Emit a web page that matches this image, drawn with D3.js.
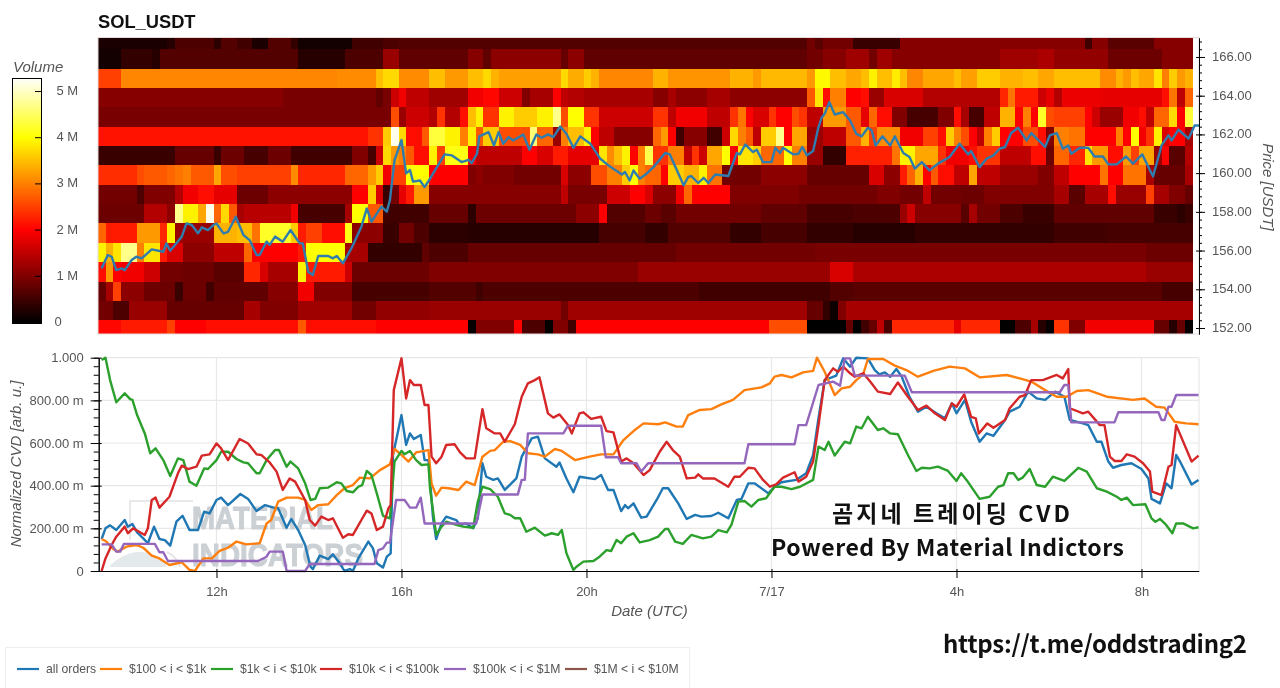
<!DOCTYPE html>
<html><head><meta charset="utf-8">
<script src="https://cdn.jsdelivr.net/npm/d3@7"></script>
<style>
html,body{margin:0;padding:0;background:#fff;overflow:hidden}
svg{display:block;font-family:"Liberation Sans",Arial,sans-serif;filter:blur(.4px)}
.tick text{font-size:13px;fill:#555;font-family:"Liberation Sans",Arial,sans-serif}
.axlab{font-size:15px;font-style:italic;fill:#555}
.big{font-family:"Noto Sans CJK KR","Noto Sans",sans-serif;font-weight:700;fill:#111}
</style></head><body><svg id="c" width="1280" height="688"></svg>
<script>
// ---------- heatmap: volume in millions, run lists [end column, value, ...], 142 ten-minute columns
const columnCount = 142, columnMinutes = 10, firstColumnMinute = -153.7;
const vol167 = [9,.2,10,.3,15,.6,16,.35,18,.65,20,.5,22,.2,25,.65,26,.4,33,.15,37,.5,39,.6,92,.65,93,.9,94,.7,98,.9,104,.45,128,1.05,129,.5,131,1.05,137,.7,142,1.05];
const vol166 = [3,.15,7,.4,8,.3,26,.65,32,.3,37,.6,39,1.2,48,.75,50,1.05,51,.75,60,1.1,61,.8,63,1.1,92,.75,94,.9,97,1.05,100,1.25,101,.9,103,1.25,117,1.05,122,1.25,124,1.35,131,1.15,138,.85,142,1.05];
const vol165 = [3,2.5,31,3.05,36,3.1,37,3.5,39,3.7,43,3.1,45,3.5,48,3.2,50,3.5,51,3.7,52,3.4,60,3.25,61,3.7,63,3.35,64,3.6,65,3.4,72,3.05,74,3.4,82,3.15,85,3.4,86,3.2,92,3.45,93,3.2,95,3.95,97,3.5,99,3.3,100,3.5,101,3.9,103,3.5,104,3.85,105,3.5,107,3.05,111,3.3,112,3.5,114,3.25,117,3.6,120,3.4,122,3.5,124,3.3,130,3.5,132,3.1,133,3.4,134,3.2,135,3.5,137,3.3,138,3.8,139,3.0,140,3.6,141,3.2,142,3.4];
const vol164 = [24,1.05,36,.95,37,.75,38,.95,39,1.6,40,1.9,43,1.5,48,1.25,50,1.9,52,2.05,55,1.6,56,1.0,59,1.3,60,2,61,1.5,63,1.4,72,1.3,74,1.05,75,1.3,79,1.1,82,1.3,92,1.1,93,2.7,94,3.8,95,2.1,97,3.0,99,2.0,100,2.1,102,1.2,107,1.7,117,1.4,118,2.3,119,2.9,122,2.2,123,1.6,124,1.8,125,1.4,130,1.85,138,1.8,139,2.1,140,2.9,141,1.5,142,2.8];
const vol163 = [38,.95,39,2.6,40,1.2,43,1.6,44,1.4,45,2.4,47,1.4,48,2.1,49,3.5,50,3.9,52,2.4,54,3.9,57,3.6,59,3.9,60,4.7,61,2.6,63,4.0,65,2.4,72,1.6,74,2.4,75,1.5,79,1.9,82,1.5,83,2.4,84,2.9,85,2.0,87,1.7,88,2.4,90,2.0,91,2.6,92,2.4,94,1.5,97,3.2,99,2.7,100,1.8,101,2.8,103,2.1,105,1.0,109,.55,111,1.0,112,2.1,113,1.3,115,.55,117,1.5,119,3.4,120,2.0,121,3.0,122,2.0,123,4.2,124,2.6,128,2.5,129,2,130,1.6,133,1.2,135,1.9,136,2.1,137,1.5,139,2.8,140,3.7,141,2.0,142,4.3];
const vol162 = [35,2.15,37,2.4,38,3.6,39,5.2,40,3.7,42,2.1,43,2.7,45,4.3,47,3.9,48,3.0,49,3.9,50,2.7,52,3.6,56,2.6,57,4.6,59,2.8,60,1.2,61,3.0,63,3.5,64,3.9,65,2.0,67,1.5,72,1.05,73,2.8,74,3.2,75,2.0,76,.5,79,1.05,81,.5,82,1.6,83,3.7,84,3.0,85,2.7,86,1.5,88,3.6,89,4.7,90,2.0,92,3.3,94,1.2,97,1.5,99,2.7,100,3.4,101,2.5,104,3.1,107,1.9,109,2.5,110,2.1,111,3.6,112,3.0,113,2.6,114,2.0,115,1.5,116,3.0,117,3.6,120,2.0,122,2.6,123,2.1,124,1.0,126,3,128,2.9,132,2.0,133,3.0,134,2,135,4.0,136,1.9,137,2.4,138,3.9,139,1.7,141,2,142,1.3];
const vol161 = [10,.45,15,.8,16,.45,19,.85,22,.55,25,.85,33,.5,35,1.0,36,.55,37,1.6,38,3.7,39,3.2,40,3.0,41,2.7,43,2.1,44,3.9,45,2.5,48,4.1,49,1.9,55,1.5,57,2.0,59,1.7,61,2.2,65,1.8,66,3.8,67,3.1,68,3.5,69,3.9,70,2.0,71,3.0,72,4.4,74,2.4,76,3.0,77,1.5,78,2.4,79,1.6,81,3.3,82,4.0,83,2.0,85,3.8,86,3.6,89,2.8,90,4.0,92,3.0,94,1.2,97,.4,103,2.25,104,2.9,106,3.9,109,3.3,110,2.4,113,1.9,114,2.1,117,2.4,121,1.5,123,2.1,124,.85,126,2.8,128,2.3,129,3.8,131,3.2,133,2.1,134,3.2,135,2.5,137,3.3,138,1.2,139,2.0,141,.7,142,1.4];
const vol160 = [5,2.35,6,2.6,9,2.7,10,2.8,11,2.9,12,3,15,2.7,16,3.3,18,2.6,25,2.5,26,3.1,32,2.3,35,2.8,36,3.2,37,3.6,38,1.9,40,2.5,43,4.0,48,2.0,49,1.0,50,1.1,54,1.0,60,.9,61,1.7,64,1.1,66,2.6,68,3.0,69,3.6,70,4.0,71,3.0,73,2.8,74,2.0,76,3.6,78,3.4,79,3.9,81,2.9,86,.9,92,1.1,100,.8,102,1.7,104,1.1,105,2.2,106,2.8,107,3.4,108,2.0,109,2.7,111,2.1,113,1.5,114,3.3,117,1.5,122,1.2,124,1.0,126,1.5,130,2.0,131,2.9,133,2.0,136,2.9,137,1.3,141,.8,142,1.3];
const vol159 = [5,.9,6,.6,10,1.0,11,1.4,13,1.9,15,2.1,18,1.8,22,.85,33,1.1,35,2.0,36,3.6,37,1.7,38,.45,39,.9,40,1.8,41,2.2,43,3.2,60,1.05,61,1.5,66,.95,69,1.6,71,2.0,72,1.7,75,1.1,76,1.9,77,2.8,82,2.0,91,1.0,101,.9,104,1.0,107,.9,108,1.5,112,.9,115,.85,124,1.0,126,1.3,128,.7,131,1.3,132,2.1,136,1.2,137,2.5,139,1.3,141,1,142,.8];
const vol158 = [6,.85,9,1.4,10,1.1,11,4.7,13,3.9,14,3.3,15,5.2,16,2.8,17,3.7,18,2.7,19,1.3,25,1.45,26,1.9,32,.55,33,1.3,35,4.0,37,2.7,43,.5,48,.8,49,.35,62,.85,65,1.1,66,2.0,71,.65,73,.85,75,.7,86,.9,92,.75,98,.55,104,.6,105,1.2,106,1.6,112,1.05,113,.7,114,1.3,117,.9,120,.6,124,.45,137,.75,140,.45,141,.35,142,.45];
const vol157 = [1,2.8,5,2.2,8,3.2,9,2.3,10,3.9,15,1.2,18,3.4,20,3.5,21,2.9,25,4.2,26,3.6,27,2.2,29,2.5,32,2.1,33,4.1,37,1.1,39,.45,41,.9,43,.6,48,.35,65,.3,71,.55,74,.4,82,.65,86,.4,92,.55,98,.4,106,.3,124,.4,131,.5,142,.55];
const vol156 = [1,3.9,2,3.4,3,3.8,5,4.7,6,3.0,8,3.8,9,2.2,11,1.7,15,1.1,19,1.5,20,2.8,26,2.0,27,2.2,32,4.0,35,1.3,42,.4,43,.75,48,.6,75,.8,93,.9,136,.95,142,.85];
const vol155 = [1,2.1,2,3.2,3,2.0,6,1.9,8,1.6,11,.9,15,.85,19,.7,21,2.3,22,1.7,26,1.3,27,3.9,32,2.2,33,1.6,43,.85,70,1.0,95,1.2,98,1.7,136,1.35,142,1.2];
const vol154 = [1,.8,2,1.3,3,2.5,6,1.1,10,.85,11,.45,14,.85,15,.5,22,.75,26,1.05,28,1.9,33,1.0,43,.55,49,.65,50,.5,78,.6,95,.5,98,.65,138,.7,142,.55];
const vol153 = [2,.9,4,.6,9,1.2,19,.8,21,1.3,26,1.0,33,1.25,36,.9,43,1.15,60,1.2,61,.9,92,1.25,94,.8,95,.4,96,.1,97,1.0,142,1.3];
const vol152 = [3,2.05,9,2.2,10,2.5,14,2,26,2.1,27,2.7,36,2.1,48,2.0,49,.05,54,1.0,55,2,58,.6,59,.02,61,1.0,62,.5,87,2.0,92,2.6,97,0,98,.8,99,0,100,.5,101,.8,102,1.5,103,.6,111,2.3,112,1.8,117,2.3,119,.02,121,.6,122,1.3,123,.3,124,.05,126,2.4,128,1.0,137,1.9,139,.8,140,.3,141,.8,142,.05];
const bandLowerEdges = [166.4,165.4,164.4,163.4,162.4,161.4,160.4,159.4,158.4,157.4,156.4,155.4,154.4,153.4,152.4,151.4];
const bandRuns = [vol167,vol166,vol165,vol164,vol163,vol162,vol161,vol160,vol159,vol158,vol157,vol156,vol155,vol154,vol153,vol152];

// ---------- lines: [minutes after 12h on 7/16, value]
const price = [[-149,155.08],[-141,155.77],[-136,155.68],[-130,154.99],[-123,155.08],[-119,154.99],[-110,155.51],[-104,155.68],[-97,155.6],[-84,156.06],[-69,155.94],[-65,156.37],[-60,155.99],[-45,156.72],[-39,157.4],[-32,157.32],[-24,156.89],[-19,157.2],[-11,157.06],[-4,157.32],[0,157.4],[9,156.89],[15,156.97],[25,157.75],[35,156.8],[43,156.54],[52,155.77],[56,155.77],[65,156.46],[69,156.29],[76,156.72],[86,156.46],[96,157.06],[108,156.37],[112,156.37],[119,154.91],[125,154.74],[132,155.72],[145,155.72],[151,155.6],[156,155.72],[164,155.34],[175,156.11],[188,157.23],[195,158.18],[201,157.49],[214,158.27],[221,158.01],[225,158.61],[231,160.67],[240,161.71],[246,159.99],[251,160.16],[255,159.56],[264,159.62],[270,159.28],[277,159.71],[286,160.31],[296,160.97],[305,160.92],[318,160.57],[327,160.69],[331,160.52],[338,161.0],[341,161.9],[353,162.12],[360,161.43],[366,162.12],[372,161.52],[379,161.86],[385,161.69],[398,162.0],[406,161.21],[415,162.0],[422,161.83],[430,162.0],[437,161.86],[446,162.41],[454,162.03],[463,161.31],[472,161.9],[485,161.52],[498,160.74],[510,160.35],[526,159.93],[530,160.06],[536,159.62],[541,160.14],[549,159.71],[558,159.97],[567,160.31],[582,161.04],[588,160.97],[606,159.37],[612,159.8],[616,159.85],[625,159.49],[632,159.76],[638,159.49],[647,159.93],[664,159.85],[675,161.04],[679,160.97],[686,161.48],[696,161.09],[701,161.21],[709,160.57],[720,160.57],[725,161.31],[731,161.04],[735,161.31],[748,160.97],[755,161.0],[760,161.35],[766,160.92],[774,161.14],[781,162.38],[785,162.86],[789,163.07],[795,163.67],[802,163.03],[813,163.15],[822,162.72],[830,162.03],[837,161.9],[845,162.34],[850,162.21],[855,161.43],[864,161.9],[874,161.43],[880,161.9],[891,161.04],[899,160.83],[906,160.23],[915,160.57],[925,160.14],[936,160.49],[951,160.83],[964,161.52],[975,160.97],[979,161.14],[990,160.31],[999,160.74],[1008,160.92],[1016,161.26],[1023,161.35],[1031,162.07],[1040,162.34],[1051,161.69],[1057,162.07],[1075,161.35],[1081,161.95],[1090,162.07],[1098,161.26],[1105,161.43],[1109,161.0],[1120,161.31],[1131,161.31],[1139,160.86],[1150,160.86],[1157,160.45],[1168,160.45],[1180,160.86],[1189,160.49],[1201,160.97],[1215,159.83],[1226,161.43],[1235,161.95],[1239,161.69],[1248,162.24],[1261,161.78],[1269,162.46],[1275,162.46]];
const allOrders = [[-149,150],[-144,200],[-138,214],[-130,192],[-119,239],[-115,208],[-109,220],[-103,181],[-95,153],[-89,130],[-81,208],[-74,150],[-67,145],[-60,119],[-52,231],[-44,259],[-35,192],[-24,192],[-16,278],[-9,270],[0,333],[6,344],[15,309],[31,361],[41,338],[52,281],[63,309],[74,297],[80,294],[91,203],[97,244],[106,192],[115,122],[122,20],[125,9],[134,72],[145,56],[151,78],[160,36],[166,0],[173,9],[177,0],[184,59],[197,138],[203,106],[208,36],[216,16],[221,67],[226,83],[229,544],[240,731],[246,591],[251,645],[256,619],[265,638],[270,520],[275,520],[281,247],[285,150],[292,223],[298,255],[311,239],[316,216],[324,223],[333,200],[339,247],[345,505],[350,442],[359,427],[365,434],[374,380],[389,434],[396,536],[409,622],[417,630],[426,528],[441,489],[445,509],[454,434],[463,369],[471,442],[491,431],[499,450],[508,380],[515,380],[525,281],[530,309],[534,294],[541,317],[551,250],[558,255],[571,333],[579,388],[586,388],[599,317],[610,244],[621,263],[629,255],[642,258],[651,273],[664,247],[675,333],[681,338],[690,411],[698,411],[716,364],[724,395],[733,416],[752,427],[765,458],[774,544],[781,716],[789,895],[804,916],[813,997],[822,958],[830,1000],[845,997],[854,942],[860,922],[867,931],[874,911],[882,947],[889,911],[899,817],[910,747],[921,770],[934,739],[945,716],[954,786],[960,739],[971,802],[979,700],[990,606],[999,645],[1008,634],[1023,708],[1029,747],[1042,770],[1053,841],[1064,809],[1075,802],[1088,841],[1100,817],[1107,708],[1124,692],[1131,684],[1142,606],[1148,606],[1157,513],[1163,484],[1174,497],[1187,505],[1200,478],[1209,434],[1213,338],[1224,317],[1232,411],[1239,388],[1245,544],[1250,513],[1265,406],[1274,427]];
const from100to1k = [[-149,150],[-143,138],[-134,103],[-128,91],[-117,114],[-104,122],[-95,109],[-84,72],[-74,59],[-61,28],[-45,41],[-35,5],[-28,0],[-17,59],[-6,59],[4,94],[15,109],[26,138],[39,125],[56,130],[65,223],[71,239],[80,325],[91,344],[106,344],[115,333],[123,286],[132,309],[145,313],[156,356],[166,388],[177,403],[186,438],[199,434],[212,473],[225,500],[231,572],[240,544],[249,513],[259,556],[275,567],[279,411],[285,353],[292,391],[301,388],[314,380],[324,419],[335,403],[345,536],[355,563],[361,567],[372,606],[381,609],[394,591],[404,552],[417,547],[426,536],[439,572],[448,563],[465,520],[484,536],[499,547],[515,547],[528,614],[541,656],[554,692],[573,688],[582,697],[597,677],[605,677],[612,731],[627,755],[642,759],[655,781],[670,802],[685,848],[707,861],[718,880],[724,911],[733,919],[746,908],[761,931],[774,938],[779,1000],[789,934],[802,825],[811,856],[822,864],[830,895],[839,922],[845,994],[865,994],[880,963],[895,942],[910,911],[930,938],[951,958],[971,950],[990,908],[1025,919],[1042,903],[1057,888],[1075,848],[1090,817],[1103,817],[1116,844],[1131,848],[1155,817],[1189,802],[1204,809],[1219,770],[1230,766],[1243,700],[1258,692],[1274,688]];
const from1kto10k = [[-149,989],[-144,1000],[-138,895],[-130,791],[-119,833],[-112,806],[-109,802],[-103,731],[-93,645],[-86,552],[-79,575],[-69,520],[-60,445],[-50,528],[-43,520],[-35,419],[-26,400],[-16,481],[-11,478],[0,520],[6,559],[15,559],[26,525],[35,509],[41,505],[52,458],[56,458],[65,520],[76,567],[81,567],[91,489],[96,513],[106,481],[115,411],[122,333],[128,338],[134,388],[145,391],[156,416],[162,411],[169,375],[177,369],[184,395],[189,403],[195,469],[201,450],[208,364],[216,259],[225,247],[231,513],[240,563],[244,547],[251,563],[259,520],[266,497],[275,500],[277,388],[285,169],[292,208],[298,231],[311,216],[320,208],[333,203],[339,325],[345,395],[355,384],[365,348],[374,270],[381,263],[387,247],[394,247],[402,184],[413,203],[426,166],[435,177],[443,169],[448,192],[454,83],[463,5],[467,20],[476,44],[489,47],[497,67],[506,98],[512,94],[519,145],[525,130],[532,161],[541,177],[549,134],[562,145],[573,161],[582,197],[586,197],[595,138],[605,127],[616,169],[631,153],[642,161],[651,192],[662,181],[668,216],[677,325],[685,328],[694,302],[703,333],[713,341],[724,395],[733,395],[746,384],[757,395],[774,427],[781,583],[789,567],[794,606],[802,541],[815,606],[822,598],[830,677],[837,669],[845,723],[858,661],[865,669],[874,645],[884,641],[897,544],[908,469],[915,484],[925,481],[936,489],[949,469],[960,422],[966,458],[973,427],[990,338],[1003,348],[1014,395],[1021,403],[1027,458],[1034,458],[1040,427],[1046,438],[1055,478],[1064,403],[1075,395],[1085,442],[1100,422],[1118,484],[1129,466],[1142,388],[1155,372],[1168,348],[1174,333],[1181,344],[1189,309],[1205,313],[1213,247],[1218,231],[1224,244],[1232,216],[1240,177],[1245,223],[1254,223],[1267,200],[1274,205]];
const from10kto100k = [[-149,0],[-144,59],[-136,122],[-130,161],[-119,208],[-115,177],[-108,200],[-97,177],[-93,169],[-89,200],[-84,333],[-79,344],[-74,297],[-61,348],[-50,458],[-45,494],[-37,478],[-26,489],[-19,541],[-9,547],[0,598],[6,575],[15,520],[30,619],[41,598],[52,547],[58,544],[69,509],[78,466],[86,380],[95,434],[102,419],[115,333],[121,239],[128,213],[136,255],[145,239],[151,247],[164,156],[171,172],[177,169],[188,239],[195,283],[201,270],[208,192],[216,208],[223,294],[226,309],[230,848],[240,997],[246,809],[251,895],[256,872],[265,872],[270,778],[275,778],[279,536],[285,505],[292,536],[298,591],[309,594],[316,556],[324,528],[335,528],[345,759],[350,669],[361,645],[368,645],[374,606],[387,688],[396,817],[404,880],[413,895],[419,908],[430,739],[437,719],[445,734],[456,684],[461,645],[471,739],[476,744],[486,713],[499,723],[506,656],[515,650],[525,513],[532,528],[541,505],[554,450],[562,473],[575,559],[584,606],[592,567],[601,536],[610,434],[621,438],[625,453],[631,434],[646,434],[664,395],[672,442],[679,442],[690,484],[698,481],[709,427],[718,395],[726,406],[735,438],[750,463],[755,419],[765,442],[774,513],[781,684],[789,895],[800,950],[806,934],[813,958],[822,927],[828,911],[839,927],[848,888],[858,841],[874,830],[884,884],[897,817],[910,755],[921,775],[932,739],[945,708],[954,786],[960,770],[970,828],[979,723],[985,716],[989,645],[1000,692],[1008,672],[1023,708],[1029,763],[1042,817],[1049,825],[1057,895],[1072,895],[1090,919],[1098,903],[1105,947],[1107,763],[1124,739],[1131,747],[1146,684],[1152,684],[1159,536],[1165,516],[1174,516],[1181,547],[1191,536],[1202,505],[1211,466],[1214,372],[1226,356],[1235,489],[1239,497],[1245,684],[1265,513],[1274,541]];
const from100kto1M = [[-149,125],[-136,125],[-130,91],[-125,91],[-120,127],[-80,127],[-74,88],[-69,88],[-63,47],[54,47],[65,67],[69,91],[86,91],[91,0],[115,0],[121,33],[205,33],[210,98],[216,106],[221,133],[225,133],[233,333],[244,333],[251,297],[259,297],[265,344],[270,223],[337,223],[345,359],[391,359],[396,427],[400,427],[404,645],[450,645],[456,681],[499,681],[505,533],[521,533],[525,505],[545,505],[551,466],[560,505],[685,505],[690,594],[750,594],[755,684],[765,684],[781,872],[800,888],[809,869],[815,997],[822,997],[828,916],[893,916],[902,838],[1094,838],[1100,872],[1105,872],[1109,697],[1165,697],[1170,744],[1222,744],[1226,708],[1230,708],[1235,770],[1239,770],[1245,825],[1274,825]];
const seriesValues = [allOrders, from100to1k, from1kto10k, from10kto100k, from100kto1M];
const seriesNames = ["all orders","$100 < i < $1k","$1k < i < $10k","$10k < i < $100k","$100k < i < $1M","$1M < i < $10M"];
const seriesColors = ["#1f77b4","#ff7f0e","#2ca02c","#d62728","#9467bd","#8c564b"];

// ---------- tick labels
const timeTicks = [0,240,480,720,960,1200];
const timeLabels = ["12h","16h","20h","7/17","4h","8h"];
const priceTicks = [152,154,156,158,160,162,164,166];
const cvdTicks = [0,200,400,600,800,1000];
const cvdLabels = ["0","200.00 m","400.00 m","600.00 m","800.00 m","1.000"];
const volumeTicks = [0,1,2,3,4,5];
const volumeLabels = ["0","1 M","2 M","3 M","4 M","5 M"];

const svg = d3.select("#c");
const color = d3.scaleLinear().domain([0,2,4,5.3]).range(["#000000","#ff0000","#ffff00","#ffffff"]).clamp(true);
const x = d3.scaleLinear().domain([-153.7,1275]).range([98,1199.3]);
const yPrice = d3.scaleLinear().domain([151.69,166.98]).range([334,38]);
const yCvd = d3.scaleLinear().domain([0,1000]).range([571,357.7]);
const yVol = d3.scaleLinear().domain([0,5]).range([322,91]);

svg.append("text").attr("x",98).attr("y",28).attr("font-size",18.3).attr("font-weight",700).attr("fill","#111").text("SOL_USDT");

// heatmap
const defs = svg.append("defs");
defs.append("clipPath").attr("id","hm").append("rect").attr("x",98).attr("y",38).attr("width",1102).attr("height",296);
const hm = svg.append("g").attr("clip-path","url(#hm)").attr("shape-rendering","crispEdges");
function expand(runs){const out=[];let s=0;for(let i=0;i<runs.length;i+=2){for(let k=s;k<runs[i];k++)out.push(runs[i+1]);s=runs[i];}return out;}
const cells=[];
bandRuns.forEach((runs,r)=>expand(runs).forEach((v,c)=>cells.push({c,low:bandLowerEdges[r],v})));
hm.selectAll("rect").data(cells).join("rect")
  .attr("x",d=>x(firstColumnMinute+d.c*columnMinutes))
  .attr("width",d=>x(firstColumnMinute+(d.c+1)*columnMinutes)-x(firstColumnMinute+d.c*columnMinutes)+.4)
  .attr("y",d=>yPrice(d.low+1)).attr("height",d=>yPrice(d.low)-yPrice(d.low+1)+.4)
  .attr("fill",d=>color(d.v));
svg.append("rect").attr("x",98).attr("y",37.5).attr("width",1101).attr("height",296.5).attr("fill","none").attr("stroke","#e6dcdc").attr("stroke-width",1);

const line = d3.line();
svg.append("path").datum(price).attr("fill","none").attr("stroke","#2f7cae").attr("stroke-width",2.4).attr("stroke-linejoin","round")
  .attr("d",line.x(d=>x(d[0])).y(d=>yPrice(d[1])));

function axisStyle(g){g.selectAll(".domain").attr("stroke","#000").attr("stroke-width",1);g.selectAll(".tick line").attr("stroke","#000");}
// price axis
const minor = d3.range(151.6+.4,167,.4).map(v=>+v.toFixed(1));
svg.append("g").attr("transform","translate(1199,0)").call(d3.axisRight(yPrice).tickValues(minor).tickSize(3).tickSizeOuter(0).tickFormat("")).call(axisStyle);
const pa = svg.append("g").attr("transform","translate(1199,0)").call(d3.axisRight(yPrice).tickValues(priceTicks).tickSize(6).tickSizeOuter(0).tickPadding(7).tickFormat(d3.format(".2f"))).call(axisStyle);
pa.selectAll(".tick line").attr("x1",-3);
pa.selectAll(".tick text").attr("dy","0.27em");
svg.append("text").attr("class","axlab").attr("text-anchor","middle").attr("transform","translate(1263,187) rotate(90)").text("Price [USDT]");

// colour bar
const vs = d3.range(0,5.28,.01);
const cb = svg.append("g").attr("shape-rendering","crispEdges");
cb.selectAll("rect").data(vs).join("rect").attr("x",12).attr("width",29).attr("y",d=>yVol(d+.01)).attr("height",d=>yVol(d)-yVol(d+.01)+.5).attr("fill",d=>color(d));
cb.append("rect").attr("x",12).attr("y",78).attr("width",29).attr("height",245).attr("fill","none").attr("stroke","#000");
const va = svg.append("g").attr("transform","translate(41,0)").call(d3.axisLeft(yVol).tickValues(volumeTicks).tickSize(6).tickFormat((d,i)=>volumeLabels[i]));
va.select(".domain").remove();
va.selectAll(".tick line").attr("stroke","#000");
va.selectAll(".tick text").attr("text-anchor","start").attr("x",(d,i)=>i?15.5:13.5).attr("dy","0.27em");
svg.append("text").attr("x",13).attr("y",72).attr("class","axlab").text("Volume");

// lower plot: grid
const grid = svg.append("g").attr("stroke","#e8e8e8").attr("stroke-width",1.2);
grid.selectAll(".gy").data(cvdTicks.slice(1)).join("line").attr("x1",98.7).attr("x2",1199).attr("y1",d=>yCvd(d)).attr("y2",d=>yCvd(d));
grid.selectAll(".gx").data(timeTicks).join("line").attr("y1",357.7).attr("y2",571).attr("x1",d=>x(d)).attr("x2",d=>x(d));
grid.append("line").attr("x1",1199).attr("x2",1199).attr("y1",357.7).attr("y2",571);

// watermark
const wm = svg.append("g");
wm.append("path").attr("d","M109 567 C118 556 132 551 142 552 C152 553 163 558 167 567 Z").attr("fill","#e4e9eb");
wm.append("path").attr("d","M130 540 L130 501 L193 501").attr("fill","none").attr("stroke","#e2e2e2").attr("stroke-width",1.5);
wm.append("path").attr("d","M167 552 Q178 558 180 567").attr("fill","none").attr("stroke","#e2e2e2").attr("stroke-width",1.5);
wm.selectAll(".wm").data([["MATERIAL",529,141],["INDICATORS",566,171]]).join("text")
  .attr("x",192).attr("y",d=>d[1]).attr("font-size",31).attr("font-weight",700).attr("fill","#cbd0d4").attr("stroke","#cbd0d4").attr("stroke-width",1)
  .attr("textLength",d=>d[2]).attr("lengthAdjust","spacingAndGlyphs").text(d=>d[0]);

// CVD lines
seriesValues.forEach((s,i)=>{
  svg.append("path").datum(s).attr("fill","none").attr("stroke",seriesColors[i]).attr("stroke-width",2.4).attr("stroke-linejoin","round")
   .attr("d",d3.line().x(d=>x(d[0])).y(d=>yCvd(d[1])));
});

// CVD axes
const cvdMinor = d3.range(0,1001,40);
svg.append("g").attr("transform","translate(98.7,0)").call(d3.axisLeft(yCvd).tickValues(cvdMinor).tickSize(5).tickSizeOuter(0).tickFormat("")).call(axisStyle);
const ca = svg.append("g").attr("transform","translate(98.7,0)").call(d3.axisLeft(yCvd).tickValues(cvdTicks).tickSize(8).tickSizeOuter(0).tickPadding(7).tickFormat((d,i)=>cvdLabels[i])).call(axisStyle);
ca.selectAll(".tick line").attr("x1",3);
const ta = svg.append("g").attr("transform","translate(0,571)").call(d3.axisBottom(x).tickValues(timeTicks).tickSize(7).tickSizeOuter(0).tickPadding(9).tickFormat((d,i)=>timeLabels[i])).call(axisStyle);
ta.selectAll(".tick line").attr("y1",-2);
ta.select(".domain").attr("d","M98.7,0.5H1199.3");
svg.append("text").attr("class","axlab").attr("text-anchor","middle").attr("x",649.5).attr("y",616).text("Date (UTC)");
svg.append("text").attr("class","axlab").attr("text-anchor","middle").attr("transform","translate(21,464) rotate(-90)").text("Normalized CVD [arb. u.]");

// overlay captions
svg.append("text").attr("class","big").attr("x",832).attr("y",522).attr("font-size",23).attr("textLength",238).text("곰지네 트레이딩 CVD");
svg.append("text").attr("class","big").attr("x",771).attr("y",556).attr("font-size",23).attr("textLength",353).text("Powered By Material Indictors");
svg.append("text").attr("class","big").attr("x",943).attr("y",653).attr("font-size",24).attr("textLength",304).text("https://t.me/oddstrading2");

// legend
svg.append("rect").attr("x",5.5).attr("y",647.5).attr("width",684).attr("height",50).attr("fill","#fff").attr("stroke","#eeeeee");
const legendLineStart=[17,100,211,320,444,565];
const lg = svg.selectAll(".lg").data(seriesNames).join("g").attr("transform",(d,i)=>`translate(${legendLineStart[i]},669)`);
lg.append("line").attr("x2",22).attr("stroke",(d,i)=>seriesColors[i]).attr("stroke-width",2.2);
lg.append("text").attr("x",29).attr("y",4.3).attr("font-size",12.2).attr("fill","#555").text(d=>d);
</script></body></html>
